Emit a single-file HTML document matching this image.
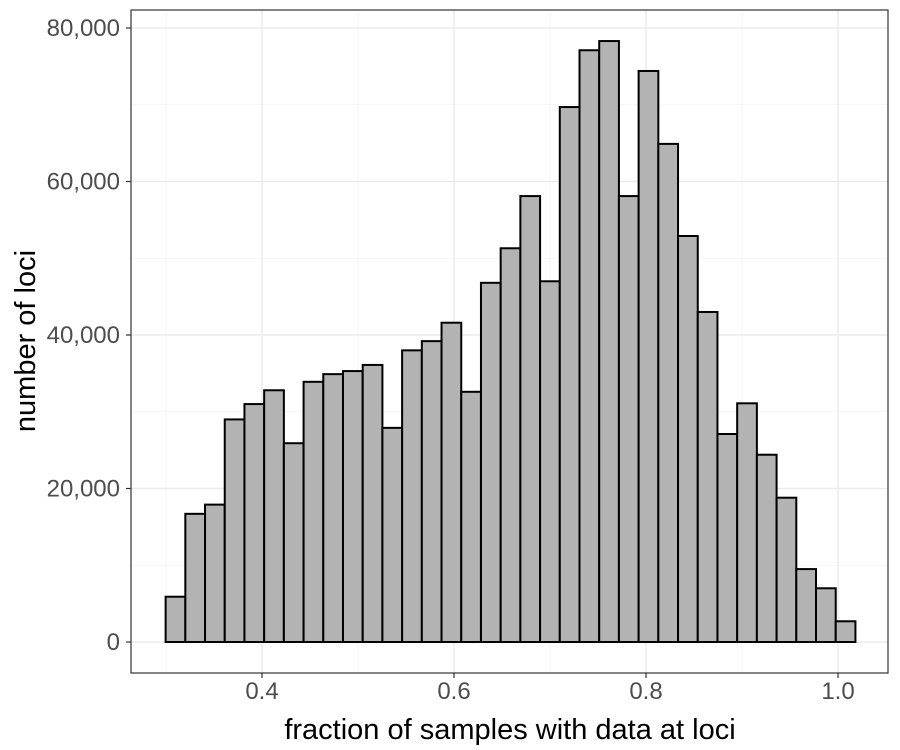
<!DOCTYPE html>
<html><head><meta charset="utf-8"><style>
body{margin:0;background:#fff;}
svg{display:block;font-family:"Liberation Sans",Arial,sans-serif;}
</style></head><body>
<svg id="chart" width="900" height="750"></svg>
<script>
const binStart = 0.2996;
const binWidth = 0.02053;
const counts = [5900,16700,17900,29000,31000,32800,25900,33900,34900,35300,36100,27900,38000,39200,41600,32600,46800,51300,58100,47000,69700,77100,78300,58100,74400,64900,52900,43000,27100,31100,24400,18800,9500,7000,2700];
const xTicks = [0.4,0.6,0.8,1.0];
const xTickLabels = ["0.4","0.6","0.8","1.0"];
const xMinor = [0.3,0.5,0.7,0.9];
const yTicks = [0,20000,40000,60000,80000];
const yTickLabels = ["0","20,000","40,000","60,000","80,000"];
const yMinor = [10000,30000,50000,70000];

const NS="http://www.w3.org/2000/svg";
const svg=document.getElementById('chart');
const X=v=>262+(v-0.4)*960;
const Y=v=>642-v*153.5/20000;
const P={l:131,r:888,t:10,b:673};
function mk(t,a,p){const e=document.createElementNS(NS,t);for(const k in a)e.setAttribute(k,a[k]);(p||svg).appendChild(e);return e;}
const grid=mk('g',{});


xMinor.forEach(v=>mk('line',{x1:X(v),x2:X(v),y1:P.t,y2:P.b,stroke:'#f2f2f2','stroke-width':0.8},grid));
yMinor.forEach(v=>mk('line',{x1:P.l,x2:P.r,y1:Y(v),y2:Y(v),stroke:'#f2f2f2','stroke-width':0.8},grid));
xTicks.forEach(v=>mk('line',{x1:X(v),x2:X(v),y1:P.t,y2:P.b,stroke:'#ebebeb','stroke-width':1.5},grid));
yTicks.forEach(v=>mk('line',{x1:P.l,x2:P.r,y1:Y(v),y2:Y(v),stroke:'#ebebeb','stroke-width':1.5},grid));
const bars=mk('g',{});


counts.forEach((c,i)=>{
  const x0=X(binStart+i*binWidth),x1=X(binStart+(i+1)*binWidth);
  const r=mk('rect',{x:x0,y:Y(c),width:x1-x0,height:Y(0)-Y(c),fill:'#b3b3b3',stroke:'#000','stroke-width':2},bars);
  
  
});
const frame=mk('rect',{x:P.l,y:P.t,width:P.r-P.l,height:P.b-P.t,fill:'none',stroke:'#333','stroke-width':1.2});


xTicks.forEach((v,i)=>{
  mk('line',{x1:X(v),x2:X(v),y1:P.b,y2:P.b+5,stroke:'#333','stroke-width':1.2});
  const t=mk('text',{x:X(v),y:699,'text-anchor':'middle','font-size':24,fill:'#4d4d4d'});
  t.textContent=xTickLabels[i];
  
  
});
yTicks.forEach((v,i)=>{
  mk('line',{x1:P.l-5,x2:P.l,y1:Y(v),y2:Y(v),stroke:'#333','stroke-width':1.2});
  const t=mk('text',{x:120,y:Y(v)+8,'text-anchor':'end','font-size':24,fill:'#4d4d4d'});
  t.textContent=yTickLabels[i];
  
  
});
const xt=mk('text',{x:510,y:739,'text-anchor':'middle','font-size':29,fill:'#000'});
xt.textContent='fraction of samples with data at loci';


const yt=mk('text',{x:0,y:0,'text-anchor':'middle','font-size':29,fill:'#000',transform:'translate(35,341) rotate(-90)'});
yt.textContent='number of loci';


</script>
</body></html>
